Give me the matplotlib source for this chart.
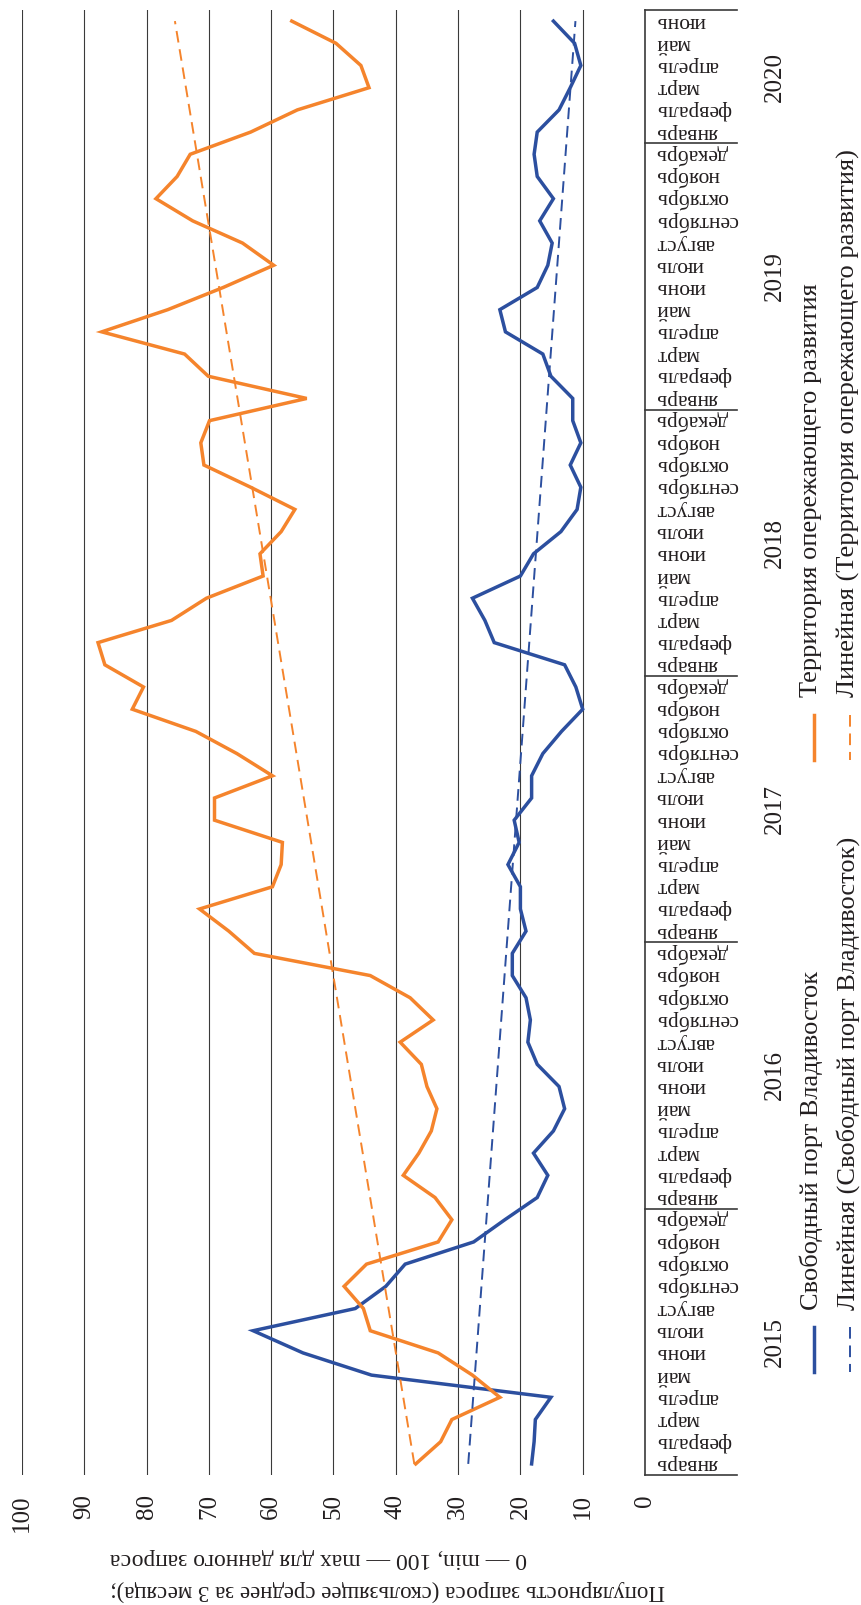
import matplotlib.pyplot as plt
import numpy as np

plt.rcParams['font.family'] = ['Liberation Serif', 'DejaVu Serif']

# Data (3-month moving average of search popularity, Jan 2015 - Jun 2020)
months = ['январь', 'февраль', 'март', 'апрель', 'май', 'июнь',
          'июль', 'август', 'сентябрь', 'октябрь', 'ноябрь', 'декабрь']
years = ['2015', '2016', '2017', '2018', '2019', '2020']
month_labels = months * 5 + months[:6]

free_port = [18.2, 17.8, 17.6, 15.1, 43.9, 54.9, 62.9, 46.5, 41.6, 38.5, 27.5, 22.5,
             17.3, 15.6, 17.9, 14.7, 12.9, 13.8, 17.3, 18.8, 18.4, 19.1, 21.3, 21.3,
             19.1, 20.0, 20.0, 22.0, 20.2, 21.0, 18.2, 18.2, 16.4, 13.4, 10.0, 11.1,
             12.9, 24.2, 25.7, 27.7, 20.0, 17.9, 13.5, 10.9, 10.3, 12.0, 10.3, 11.6,
             11.6, 15.1, 16.4, 22.4, 23.3, 17.3, 15.6, 14.9, 16.9, 14.7, 17.3, 17.8,
             17.3, 13.8, 12.0, 10.3, 11.3, 14.7]
tor = [36.8, 32.8, 31.0, 23.3, 27.7, 33.2, 44.1, 45.2, 48.3, 44.7, 33.2, 31.0,
       33.7, 38.8, 36.3, 34.3, 33.4, 35.0, 35.9, 39.3, 34.0, 37.7, 44.1, 62.7,
       66.8, 71.5, 59.8, 58.4, 58.2, 69.1, 69.1, 59.8, 65.5, 72.1, 82.3, 80.5,
       86.7, 87.8, 76.0, 70.4, 61.3, 61.8, 58.4, 56.2, 63.3, 70.8, 71.3, 69.9,
       54.3, 70.1, 73.9, 87.2, 76.6, 67.7, 59.6, 64.6, 72.6, 78.5, 75.1, 73.0,
       63.3, 55.8, 44.3, 45.6, 49.6, 56.7]

name_port = 'Свободный порт Владивосток'
name_tor = 'Территория опережающего развития'

blue = '#2c4f9f'
orange = '#f5842c'
ink = '#231f20'

W, H = 862, 1605
fig = plt.figure(figsize=(W / 100, H / 100), dpi=100)
ax = fig.add_axes([22 / W, (H - 1475) / H, 623 / W, 1465 / H])

idx = np.arange(len(month_labels))

# linear trends (as in Excel)
kp = np.polyfit(idx, free_port, 1)
kt = np.polyfit(idx, tor, 1)

ax.plot(free_port, idx, color=blue, lw=2.5, solid_joinstyle='miter')
ax.plot(tor, idx, color=orange, lw=2.5, solid_joinstyle='miter')
ax.plot(np.polyval(kp, idx), idx, color=blue, lw=1.4, dashes=(6, 3.5))
ax.plot(np.polyval(kt, idx), idx, color=orange, lw=1.4, dashes=(6, 3.5))

ax.set_xlim(100, 0)
ax.set_ylim(-0.5, len(month_labels) - 0.5)
ax.set_xticks(range(0, 101, 10))
ax.grid(axis='x', color='#3a3a3a', lw=0.8)
ax.set_axisbelow(True)
ax.tick_params(axis='x', labelrotation=90, length=0, pad=14, labelsize=18, labelcolor=ink)

ax.yaxis.tick_right()
ax.set_yticks(idx, month_labels, rotation=180, va='center')
ax.tick_params(axis='y', length=0, pad=8, labelsize=15.5, labelcolor=ink)

for s in ['top', 'bottom', 'left']:
    ax.spines[s].set_visible(False)
ax.spines['right'].set_color('#3a3a3a')
ax.spines['right'].set_linewidth(1.2)

# year groups on the category axis
tr = ax.get_yaxis_transform()
x_sep = (737 - 22) / 623
x_year = (775 - 22) / 623
for k, yr in enumerate(years):
    lo = k * 12 - 0.5
    hi = min(k * 12 + 11.5, len(month_labels) - 0.5)
    ax.plot([1, x_sep], [lo, lo], color='#3a3a3a', lw=1.2, transform=tr, clip_on=False)
    ax.text(x_year, (lo + hi) / 2, yr, rotation=90, ha='center', va='center',
            fontsize=18, color=ink, transform=tr)
ax.plot([1, x_sep], [len(month_labels) - 0.5] * 2, color='#3a3a3a', lw=1.2,
        transform=tr, clip_on=False)

# axis title (rotated)
fig.text(110 / W, (H - 1591) / H, 'Популярность запроса (скользящее среднее за 3 месяца);',
         rotation=180, ha='left', va='center', fontsize=16.5, color=ink)
fig.text(110 / W, (H - 1559) / H, '0 — min, 100 — max для данного запроса',
         rotation=180, ha='left', va='center', fontsize=17, color=ink)

# legend (rotated)
lax = fig.add_axes([0, 0, 1, 1], zorder=-1)
lax.set_xlim(0, W)
lax.set_ylim(H, 0)
lax.axis('off')
lax.plot([814, 814], [1327, 1372], color=blue, lw=2.5)
lax.plot([850, 850], [1327, 1372], color=blue, lw=1.4, dashes=(6, 3.5))
lax.plot([814, 814], [715, 760], color=orange, lw=2.5)
lax.plot([850, 850], [715, 760], color=orange, lw=1.4, dashes=(6, 3.5))
lax.text(811, 1310, name_port, rotation=90, ha='center', va='bottom', fontsize=19, color=ink)
lax.text(848, 1310, 'Линейная (' + name_port + ')', rotation=90, ha='center', va='bottom',
         fontsize=19, color=ink)
lax.text(811, 697, name_tor, rotation=90, ha='center', va='bottom', fontsize=19, color=ink)
lax.text(848, 697, 'Линейная (' + name_tor + ')', rotation=90, ha='center', va='bottom',
         fontsize=19, color=ink)

fig.savefig('out.png', dpi=100)
